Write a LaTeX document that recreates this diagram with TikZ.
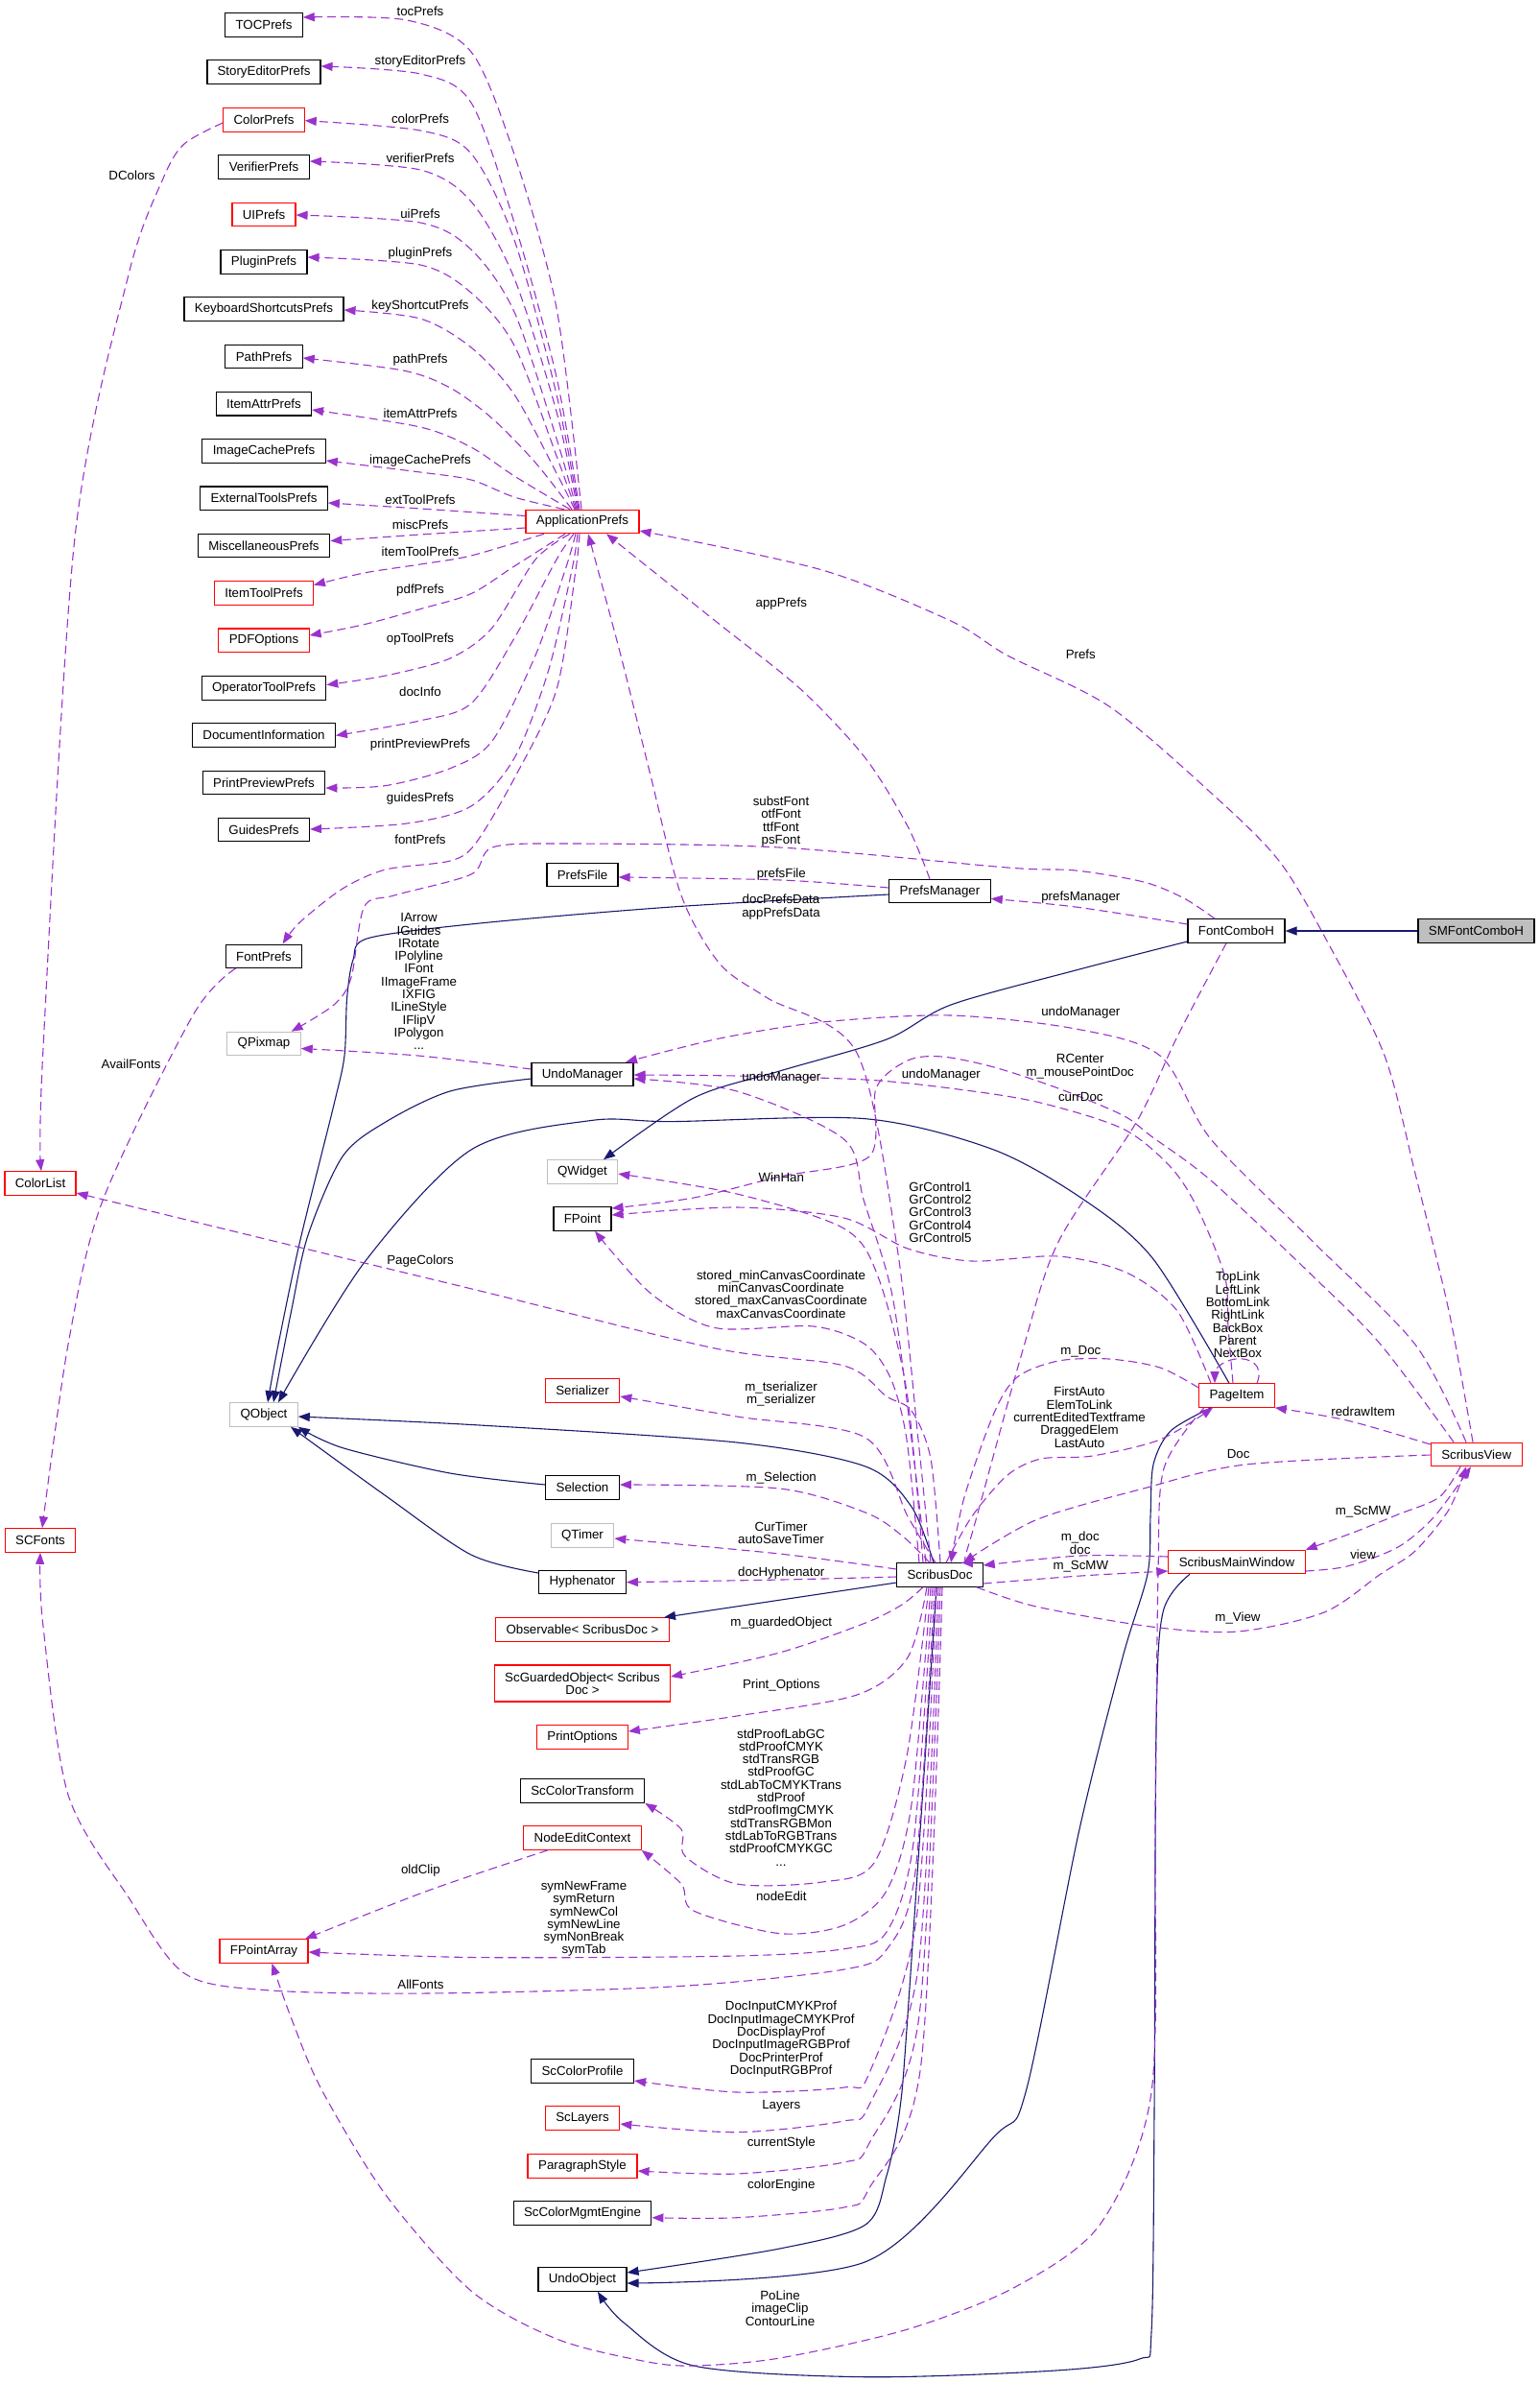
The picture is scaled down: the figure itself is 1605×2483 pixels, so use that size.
\documentclass[tikz,border=0pt]{standalone}
\usepackage{fontspec}
\setmainfont{Liberation Sans}
\usetikzlibrary{arrows.meta}
\definecolor{dpurple}{HTML}{9A32CD}
\definecolor{inhblue}{HTML}{191970}
\definecolor{boxred}{HTML}{FF0000}
\definecolor{boxgray}{HTML}{BFBFBF}
\newcommand{\nf}{\fontsize{13.3bp}{13.3bp}\selectfont}
\begin{document}
\begin{tikzpicture}[x=1bp,y=-1bp,
 box/.style={draw=black, line width=1.1bp, minimum height=24.5bp, inner sep=0pt, font=\nf},
 rbox/.style={box, draw=boxred},
 gbox/.style={box, draw=boxgray},
 lbl/.style={font=\nf, inner sep=0pt, align=center},
 dep/.style={draw=dpurple, line width=1.1bp, dash pattern=on 9bp off 5bp, -{Triangle[length=12bp,width=9bp]}},
 inh/.style={draw=inhblue, line width=1.1bp, -{Triangle[length=12bp,width=9bp]}},
]
\useasboundingbox (0,0) rectangle (1605,2483);

% ---------------- nodes ----------------
\node[box, minimum width=80.4bp] (TOC) at (275,26) {TOCPrefs};
\node[box, minimum width=118bp] (SEP) at (275,75.2) {StoryEditorPrefs};
\node[rbox, minimum width=84.4bp] (CP) at (275,124.8) {ColorPrefs};
\node[box, minimum width=94.6bp] (VP) at (275,174) {VerifierPrefs};
\node[rbox, minimum width=66bp] (UIP) at (275,223.6) {UIPrefs};
\node[box, minimum width=90bp] (PLP) at (275,272.9) {PluginPrefs};
\node[box, minimum width=166bp] (KSP) at (275,322.1) {KeyboardShortcutsPrefs};
\node[box, minimum width=80.4bp] (PP) at (275,371.4) {PathPrefs};
\node[box, minimum width=99bp] (IAP) at (275,420.7) {ItemAttrPrefs};
\node[box, minimum width=128.6bp] (ICP) at (275,470) {ImageCachePrefs};
\node[box, minimum width=132.6bp] (ETP) at (275,519.2) {ExternalToolsPrefs};
\node[box, minimum width=137.5bp] (MP) at (275,568.5) {MiscellaneousPrefs};
\node[rbox, minimum width=102.7bp] (ITP) at (275,617.9) {ItemToolPrefs};
\node[rbox, minimum width=94.2bp] (PDF) at (275,667.2) {PDFOptions};
\node[box, minimum width=129.5bp] (OTP) at (275,716.8) {OperatorToolPrefs};
\node[box, minimum width=148.7bp] (DI) at (275,766.1) {DocumentInformation};
\node[box, minimum width=127.7bp] (PPP) at (275,815.3) {PrintPreviewPrefs};
\node[box, minimum width=95bp] (GP) at (275,864.6) {GuidesPrefs};
\node[box, minimum width=79.5bp] (FP) at (275,996.3) {FontPrefs};
\node[gbox, minimum width=76.3bp] (QPX) at (275,1087.5) {QPixmap};
\node[rbox, minimum width=74bp] (CL) at (42,1233) {ColorList};
\node[gbox, minimum width=70.5bp] (QO) at (275,1474) {QObject};
\node[rbox, minimum width=73.7bp] (SCF) at (42,1605) {SCFonts};
\node[rbox, minimum width=92bp] (FPA) at (275,2033) {FPointArray};
\node[rbox, minimum width=118bp] (AP) at (607,543.5) {ApplicationPrefs};
\node[box, minimum width=74bp] (PF) at (607,911.3) {PrefsFile};
\node[box, minimum width=106bp] (UM) at (607,1119.6) {UndoManager};
\node[gbox, minimum width=73.3bp] (QW) at (607,1221) {QWidget};
\node[box, minimum width=60bp] (FPt) at (607,1270) {FPoint};
\node[rbox, minimum width=77.5bp] (SER) at (607,1449) {Serializer};
\node[box, minimum width=76.8bp] (SEL) at (607,1550) {Selection};
\node[gbox, minimum width=65.6bp] (QT) at (607,1600) {QTimer};
\node[box, minimum width=90.6bp] (HY) at (607,1648.5) {Hyphenator};
\node[rbox, minimum width=181bp] (OBS) at (607,1698) {Observable< ScribusDoc >};
\node[rbox, minimum width=183bp, minimum height=38bp, align=center] (SGO) at (607,1754) {ScGuardedObject< Scribus\\Doc >};
\node[rbox, minimum width=94.6bp] (PO) at (607,1810) {PrintOptions};
\node[box, minimum width=129.5bp] (SCT) at (607,1866) {ScColorTransform};
\node[rbox, minimum width=122.3bp] (NEC) at (607,1915) {NodeEditContext};
\node[box, minimum width=107bp] (SCP) at (607,2158) {ScColorProfile};
\node[rbox, minimum width=77.5bp] (SCL) at (607,2207) {ScLayers};
\node[rbox, minimum width=114bp] (PS) at (607,2257) {ParagraphStyle};
\node[box, minimum width=143.7bp] (CME) at (607,2306) {ScColorMgmtEngine};
\node[box, minimum width=92bp] (UO) at (607,2375) {UndoObject};
\node[box, minimum width=105.4bp] (PM) at (979.5,928.6) {PrefsManager};
\node[box, minimum width=89.3bp] (SD) at (979.5,1641) {ScribusDoc};
\node[box, minimum width=101bp] (FCH) at (1288.5,970) {FontComboH};
\node[box, fill=boxgray, minimum width=121bp] (SMF) at (1538.5,970) {SMFontComboH};
\node[rbox, minimum width=78.4bp] (PI) at (1289,1454) {PageItem};
\node[rbox, minimum width=94.9bp] (SV) at (1538.7,1515.4) {ScribusView};
\node[rbox, minimum width=142.3bp] (SMW) at (1289,1627.5) {ScribusMainWindow};

% ---------------- inheritance edges ----------------
\draw[inh] (SMF.west) -- (FCH.east);
\draw[inh] plot[smooth] coordinates {(FCH.west |- 0,981) (1121,1011) (991,1047) (924,1083) (812.5,1116) (723,1144) (QW.north -| 629,0)};
\draw[inh] plot[smooth] coordinates {(PM.west |- 0,932) (700,945) (500,962) (384,977.5) (368,1000) (361.6,1040) (359,1100) (348,1151) (312.5,1294) (290,1401) (QO.north -| 279,0)};
\draw[inh] plot[smooth] coordinates {(UM.west |- 0,1124) (469,1137) (402,1169) (357,1205) (321,1287) (303.6,1366) (QO.north -| 285,0)};
\draw[inh] plot[smooth] coordinates {(PI.north -| 1281,0) (1202,1312) (1131,1251) (1035.7,1198) (902,1165.7) (700,1168.6) (616,1167.5) (491,1198) (379.5,1315.7) (QO.north -| 290,0)};
\draw[inh] plot[smooth] coordinates {(SEL.west |- 0,1547) (469,1535) (357,1508.6) (QO.south east)};
\draw[inh] plot[smooth] coordinates {(HY.west |- 0,1639) (491,1620) (402,1558.6) (QO.south -| 303,0)};
\draw[inh] plot[smooth] coordinates {(SD.north -| 973,0) (950,1570) (902,1528) (768,1503) (500,1485) (QO.east |- 0,1476)};
\draw[inh] (SD.west |- 0,1649) -- (OBS.north -| 692,0);
\draw[inh] plot[smooth] coordinates {(SD.south -| 976,0) (946,2100) (937.5,2200) (924,2267) (902,2318) (812.5,2343) (UO.east |- 0,2368)};
\draw[inh] plot[smooth] coordinates {(PI.south -| 1262,0) (1220,1491) (1202,1526) (1199,1580) (1196,1640) (1170,1727) (1125,1906) (1069,2180) (1035.7,2226.7) (902,2356.7) (UO.east |- 0,2379)};
\draw[inh] plot[smooth] coordinates {(SMW.south -| 1240,0) (1212,1680) (1205,1800) (1203,2200) (1200,2430) (1187.5,2458) (1100,2470) (902,2476.7) (723,2465) (650,2420) (UO.south -| 623,0)};

% ---------------- ApplicationPrefs members ----------------
\draw[dep] plot[smooth] coordinates {(AP.north -| 606,0) (580,321) (536,161) (491,54) (424,21) (TOC.east |- 0,18)};
\draw[dep] plot[smooth] coordinates {(AP.north -| 604,0) (580,393) (536,232) (491,107) (438,77) (SEP.east |- 0,69)};
\draw[dep] plot[smooth] coordinates {(AP.north -| 603,0) (580,411) (536,250) (491,160) (438,136) (CP.east |- 0,125.7)};
\draw[dep] plot[smooth] coordinates {(AP.north -| 602,0) (580,429) (536,290) (491,210) (438,177) (VP.east |- 0,168)};
\draw[dep] plot[smooth] coordinates {(AP.north -| 601,0) (580,457) (536,325) (491,260) (438,232) (UIP.east |- 0,224)};
\draw[dep] plot[smooth] coordinates {(AP.north -| 600,0) (580,475) (536,360) (491,305) (438,276) (PLP.east |- 0,268)};
\draw[dep] plot[smooth] coordinates {(AP.north -| 599,0) (580,493) (536,411) (491,362) (438,332) (KSP.east |- 0,323)};
\draw[dep] plot[smooth] coordinates {(AP.north -| 596,0) (558,482) (513,436) (469,404) (420,386) (PP.east |- 0,373)};
\draw[dep] plot[smooth] coordinates {(AP.north -| 594,0) (536,496) (491,466) (438,445) (IAP.east |- 0,427)};
\draw[dep] plot[smooth] coordinates {(AP.north -| 588,0) (536,518) (491,500) (438,492) (ICP.east |- 0,480)};
\draw[dep] plot[smooth] coordinates {(AP.west |- 0,537.5) (438,530) (ETP.east |- 0,524)};
\draw[dep] plot[smooth] coordinates {(AP.west |- 0,550) (438,557) (MP.east |- 0,563.6)};
\draw[dep] plot[smooth] coordinates {(AP.south -| 567,0) (491,579) (438,588) (379.5,597) (ITP.east |- 0,609.6)};
\draw[dep] plot[smooth] coordinates {(AP.south -| 589,0) (536,590) (491,618.6) (438,634.6) (379.5,650.7) (PDF.east |- 0,662)};
\draw[dep] plot[smooth] coordinates {(AP.south -| 594,0) (558,583) (513,654) (469,686) (402,704) (OTP.east |- 0,713.6)};
\draw[dep] plot[smooth] coordinates {(AP.south -| 598,0) (580,583) (536,665) (491,733) (437.5,751) (DI.east |- 0,766.4)};
\draw[dep] plot[smooth] coordinates {(AP.south -| 600,0) (589,594) (558,683) (513,772) (469,800.7) (402,818.6) (PPP.east |- 0,821)};
\draw[dep] plot[smooth] coordinates {(AP.south -| 602,0) (596,594) (571,700.7) (536,790) (491,840) (424,858) (GP.east |- 0,864)};
\draw[dep] plot[smooth] coordinates {(AP.south -| 604,0) (600,594) (580,718.6) (536,811) (495.5,879) (469,897) (402,906) (357,926) (312.5,961) (FP.north -| 294.6,0)};

\draw[dep] plot[smooth] coordinates {(CP.west |- 0,128) (192,150) (170,186) (134,286) (78,560) (44.6,1100) (CL.north -| 43,0)};
\draw[dep] plot[smooth] coordinates {(FP.south -| 245.5,0) (201,1058) (107,1251) (71,1401) (SCF.north -| 44,0)};

% ---------------- FontComboH / PrefsManager ----------------
\draw[dep] plot[smooth] coordinates {(FCH.north -| 1266,0) (1234,936) (1192,919) (1121,907) (1050,904) (812.5,883) (589,879) (513,883) (491,911) (410.7,933) (379.5,945) (366,1018.6) (348,1047) (QPX.north -| 303.6,0)};
\draw[dep] plot[smooth] coordinates {(FCH.west |- 0,963) (1121,945) (PM.east |- 0,936.4)};
\draw[dep] plot[smooth] coordinates {(FCH.south -| 1278,0) (1227,1080) (1184.5,1169) (1103,1294) (1065,1410) (1013,1598) (SD.north -| 1002,0)};
\draw[dep] plot[smooth] coordinates {(PM.west |- 0,925) (814,917) (PF.east |- 0,914)};
\draw[dep] plot[smooth] coordinates {(PM.north -| 969,0) (946,861) (902,790) (835,718.6) (745.5,647) (AP.south -| 632,0)};
\draw[dep] plot[smooth] coordinates {(UM.west |- 0,1114) (436,1100) (QPX.east |- 0,1092.5)};

% ---------------- ScribusDoc upward ----------------
\draw[dep] plot[smooth] coordinates {(SD.north -| 970,0) (957,1500) (935,1300) (893,1097) (800,1040) (750,1004) (710,933) (678,808) (647,683) (AP.south -| 613,0)};
\draw[dep] plot[smooth] coordinates {(SD.north -| 965,0) (950,1500) (930,1350) (900,1250) (879.5,1187) (768,1137) (UM.east |- 0,1124)};
\draw[dep] plot[smooth] coordinates {(SD.north -| 962,0) (945,1450) (915,1330) (879.5,1280) (768,1244) (QW.east |- 0,1223)};
\draw[dep] plot[smooth] coordinates {(SD.north -| 958,0) (945,1500) (928.6,1437) (902,1401) (848,1382) (745.5,1383.6) (678.6,1348) (FPt.south -| 620,0)};
\draw[dep] plot[smooth] coordinates {(SD.north -| 980,0) (970,1520) (950,1470) (924,1455) (879.5,1423) (745.5,1405) (500,1345) (300,1296.7) (CL.east |- 0,1243)};
\draw[dep] plot[smooth] coordinates {(SD.north -| 975,0) (946,1580) (902,1498) (768,1476) (SER.east |- 0,1455)};
\draw[dep] plot[smooth] coordinates {(SD.north -| 969,0) (940,1600) (902,1576) (812.5,1551) (SEL.east |- 0,1547)};
\draw[dep] plot[smooth] coordinates {(SD.west |- 0,1635) (812.5,1619) (QT.east |- 0,1603)};
\draw[dep] plot[smooth] coordinates {(SD.west |- 0,1643) (814,1646) (HY.east |- 0,1648.6)};

% ---------------- ScribusDoc downward ----------------
\draw[dep] plot[smooth] coordinates {(SD.south -| 962,0) (940,1672) (902,1691) (812.5,1722) (SGO.east |- 0,1747)};
\draw[dep] plot[smooth] coordinates {(SD.south -| 966,0) (946,1727) (893,1766) (768,1788) (PO.east |- 0,1804)};
\draw[dep] plot[smooth] coordinates {(SD.south -| 968,0) (945,1830) (911,1941) (857,1961) (768,1963) (714,1934) (710,1906) (SCT.south east)};
\draw[dep] plot[smooth] coordinates {(SD.south -| 970,0) (950,1880) (924,1970) (879.5,2006) (812.5,2014.6) (723,1991) (710,1963) (NEC.south east)};
\draw[dep] plot[smooth] coordinates {(SD.south -| 972,0) (952,1920) (924,2013) (879.5,2030.7) (768,2038) (500,2039.6) (FPA.east |- 0,2034)};
\draw[dep] plot[smooth] coordinates {(SD.south -| 974,0) (954,1950) (925,2030) (880,2052) (700,2070) (446,2077) (277,2073.6) (192,2056) (134,1977) (71,1870) (44.6,1691) (SCF.south -| 42,0)};
\draw[dep] plot[smooth] coordinates {(SD.south -| 976,0) (955,2000) (906,2160) (879.5,2175) (768,2180) (SCP.east |- 0,2168)};
\draw[dep] plot[smooth] coordinates {(SD.south -| 978,0) (957,2050) (906,2193) (879.5,2210) (768,2221.7) (SCL.east |- 0,2213)};
\draw[dep] plot[smooth] coordinates {(SD.south -| 980,0) (958,2100) (906,2233) (879.5,2253) (768,2265) (PS.east |- 0,2262)};
\draw[dep] plot[smooth] coordinates {(SD.south -| 982,0) (960,2150) (906,2280) (879.5,2300) (768,2310.7) (CME.east |- 0,2310.7)};

% ---------------- ScribusDoc / MainWindow / View / PageItem ----------------
\draw[dep] plot[smooth] coordinates {(SD.east |- 0,1650) (1126,1642) (SMW.west |- 0,1637)};
\draw[dep] plot[smooth] coordinates {(SMW.west |- 0,1622) (1126,1621) (SD.east |- 0,1631)};
\draw[dep] plot[smooth] coordinates {(SD.south -| 1018,0) (1080,1674) (1200,1695) (1290,1700) (1380,1680) (1439,1640) (1475,1616) (1510,1573) (SV.south -| 1528,0)};
\draw[dep] plot[smooth] coordinates {(SV.south -| 1522,0) (1500,1560) (1457,1578) (1410,1597) (SMW.north east)};
\draw[dep] plot[smooth] coordinates {(SMW.east |- 0,1637) (1404,1632) (1457,1612) (1495,1580) (SV.south -| 1533,0)};
\draw[dep] plot[smooth] coordinates {(SV.west |- 0,1516) (1298,1526) (1191.6,1551) (1080,1583.6) (SD.north -| 1004,0)};
\draw[dep] plot[smooth] coordinates {(SV.west |- 0,1505) (1404,1480) (PI.south east)};
\draw[dep] plot[smooth] coordinates {(SV.north -| 1535,0) (1510,1366) (1475,1223) (1443,1100) (1386,986) (1333,897) (1262,826) (1156,736) (1050,683) (991,647) (857,594) (AP.east |- 0,553)};
\draw[dep] plot[smooth] coordinates {(SV.north -| 1528,0) (1475,1401) (1368.6,1294) (1262,1187) (1209,1100) (1121,1072) (991,1058) (857,1065) (750,1082) (UM.north -| 652,0)};
\draw[dep] plot[smooth] coordinates {(SV.north -| 1515,0) (1439,1401) (1368.6,1330) (1262,1230) (1200,1184) (1170,1162) (1103,1134) (1036,1112) (982,1101) (946,1105) (913,1134) (906,1205) (812.5,1226) (723,1248) (FPt.east |- 0,1259)};
\draw[dep] plot[smooth] coordinates {(PI.north -| 1285,0) (1280,1383) (1276.5,1330) (1248,1259) (1220,1216) (1170,1176) (1080,1148) (991,1134) (902,1125) (768,1121) (UM.east |- 0,1120)};
\draw[dep] plot[smooth] coordinates {(PI.north -| 1262,0) (1227,1366) (1174,1326) (1103,1309) (1013,1314) (946,1301) (879.5,1269) (768,1258) (FPt.east |- 0,1266)};
\draw[dep] plot[smooth] coordinates {(PI.west |- 0,1446) (1209,1425) (1156,1416) (1103,1418) (1060,1435) (1035.7,1473) (1005,1560) (SD.north -| 991,0)};
\draw[dep] plot[smooth] coordinates {(SD.north -| 986,0) (1013,1580) (1050,1537) (1085,1520) (1138.5,1517) (1209,1500) (PI.south -| 1264,0)};
\draw[dep] (PI.north -| 1310,0) .. controls (1318,1422) and (1302,1414) .. (1288,1416) .. controls (1272,1418) and (1266,1428) .. (PI.north -| 1266,0);
\draw[dep] plot[smooth] coordinates {(PI.south -| 1255,0) (1213,1530) (1207,1640) (1204,1900) (1200,2180) (1147,2317) (1058,2383) (946,2427) (812.5,2457) (723,2465) (670,2460) (580,2437) (491,2387) (402,2287) (335,2177) (303.6,2103) (FPA.south -| 283.5,0)};
\draw[dep] plot[smooth] coordinates {(NEC.south -| 571,0) (446,1970) (FPA.north -| 318,0)};

% ---------------- labels ----------------
\node[lbl] (lTOC) at (438,11.4) {tocPrefs};
\node[lbl] (lSEP) at (438,64.3) {storyEditorPrefs};
\node[lbl] (lCP) at (438,123.6) {colorPrefs};
\node[lbl] (lVP) at (438,164.3) {verifierPrefs};
\node[lbl] (lUIP) at (438,222.5) {uiPrefs};
\node[lbl] (lPLP) at (438,264.3) {pluginPrefs};
\node[lbl] (lKSP) at (438,319.3) {keyShortcutPrefs};
\node[lbl] (lPP) at (438,375.4) {pathPrefs};
\node[lbl] (lIAP) at (438,430.4) {itemAttrPrefs};
\node[lbl] (lICP) at (438,480.4) {imageCachePrefs};
\node[lbl] (lETP) at (438,520.4) {extToolPrefs};
\node[lbl] (lMP) at (438,547.1) {miscPrefs};
\node[lbl] (lITP) at (438,574.3) {itemToolPrefs};
\node[lbl] (lPDF) at (438,615.4) {pdfPrefs};
\node[lbl] (lOTP) at (438,666.4) {opToolPrefs};
\node[lbl] (lDI) at (438,720.4) {docInfo};
\node[lbl] (lPPP) at (438,776.4) {printPreviewPrefs};
\node[lbl] (lGP) at (438,832.1) {guidesPrefs};
\node[lbl] (lFP) at (438,874.3) {fontPrefs};
\node[lbl] (lDC) at (137.5,183.2) {DColors};
\node[lbl] (lAF) at (136.6,1108.6) {AvailFonts};
\node[lbl] (lIA) at (436.6,1022.7) {IArrow\\IGuides\\IRotate\\IPolyline\\IFont\\IImageFrame\\IXFIG\\ILineStyle\\IFlipV\\IPolygon\\...};
\node[lbl] (lPC) at (438,1314.3) {PageColors};
\node[lbl] (lAPP) at (814.3,628.6) {appPrefs};
\node[lbl] (lPR) at (1126.3,682.1) {Prefs};
\node[lbl] (lSF) at (814,856) {substFont\\otfFont\\ttfFont\\psFont};
\node[lbl] (lPFi) at (814.3,911.4) {prefsFile};
\node[lbl] (lDPD) at (814,945) {docPrefsData\\appPrefsData};
\node[lbl] (lPMg) at (1126.3,934.6) {prefsManager};
\node[lbl] (lUM1) at (1126.3,1054.6) {undoManager};
\node[lbl] (lUM2) at (814.3,1122.9) {undoManager};
\node[lbl] (lUM3) at (980.8,1120.4) {undoManager};
\node[lbl] (lRC) at (1125.7,1111.3) {RCenter\\m\_mousePointDoc};
\node[lbl] (lCD) at (1126.3,1142.5) {currDoc};
\node[lbl] (lWH) at (814.3,1226.4) {WinHan};
\node[lbl] (lGC) at (980,1263.2) {GrControl1\\GrControl2\\GrControl3\\GrControl4\\GrControl5};
\node[lbl] (lST) at (814,1348.3) {stored\_minCanvasCoordinate\\minCanvasCoordinate\\stored\_maxCanvasCoordinate\\maxCanvasCoordinate};
\node[lbl] (lMD) at (1126.3,1408.6) {m\_Doc};
\node[lbl] (lSER) at (814,1452.8) {m\_tserializer\\m\_serializer};
\node[lbl] (lFA) at (1125,1476.8) {FirstAuto\\ElemToLink\\currentEditedTextframe\\DraggedElem\\LastAuto};
\node[lbl] (lTL) at (1290,1370) {TopLink\\LeftLink\\BottomLink\\RightLink\\BackBox\\Parent\\NextBox};
\node[lbl] (lRI) at (1420.6,1470.4) {redrawItem};
\node[lbl] (lDoc) at (1290.7,1515.4) {Doc};
\node[lbl] (lSel) at (814.3,1539.6) {m\_Selection};
\node[lbl] (lCT) at (814,1597.5) {CurTimer\\autoSaveTimer};
\node[lbl] (lMDoc) at (1125.7,1607.6) {m\_doc\\doc};
\node[lbl] (lMSC1) at (1126.3,1632.5) {m\_ScMW};
\node[lbl] (lMSC2) at (1420.6,1575.4) {m\_ScMW};
\node[lbl] (lView) at (1420.6,1619.6) {view};
\node[lbl] (lHy) at (814.3,1638.6) {docHyphenator};
\node[lbl] (lMV) at (1290,1686) {m\_View};
\node[lbl] (lGO) at (814.3,1691.4) {m\_guardedObject};
\node[lbl] (lPO) at (814.3,1755.7) {Print\_Options};
\node[lbl] (lSP) at (814,1872.7) {stdProofLabGC\\stdProofCMYK\\stdTransRGB\\stdProofGC\\stdLabToCMYKTrans\\stdProof\\stdProofImgCMYK\\stdTransRGBMon\\stdLabToRGBTrans\\stdProofCMYKGC\\...};
\node[lbl] (lOC) at (438.4,1948.6) {oldClip};
\node[lbl] (lNE) at (814.3,1975.4) {nodeEdit};
\node[lbl] (lSym) at (608.5,1999.5) {symNewFrame\\symReturn\\symNewCol\\symNewLine\\symNonBreak\\symTab};
\node[lbl] (lAll) at (438.4,2068.2) {AllFonts};
\node[lbl] (lDIP) at (814,2124.7) {DocInputCMYKProf\\DocInputImageCMYKProf\\DocDisplayProf\\DocInputImageRGBProf\\DocPrinterProf\\DocInputRGBProf};
\node[lbl] (lLay) at (814.3,2194.7) {Layers};
\node[lbl] (lCS) at (814.3,2232.7) {currentStyle};
\node[lbl] (lCE) at (814.3,2276.7) {colorEngine};
\node[lbl] (lPL) at (813,2405) {PoLine\\imageClip\\ContourLine};
\end{tikzpicture}
\end{document}
